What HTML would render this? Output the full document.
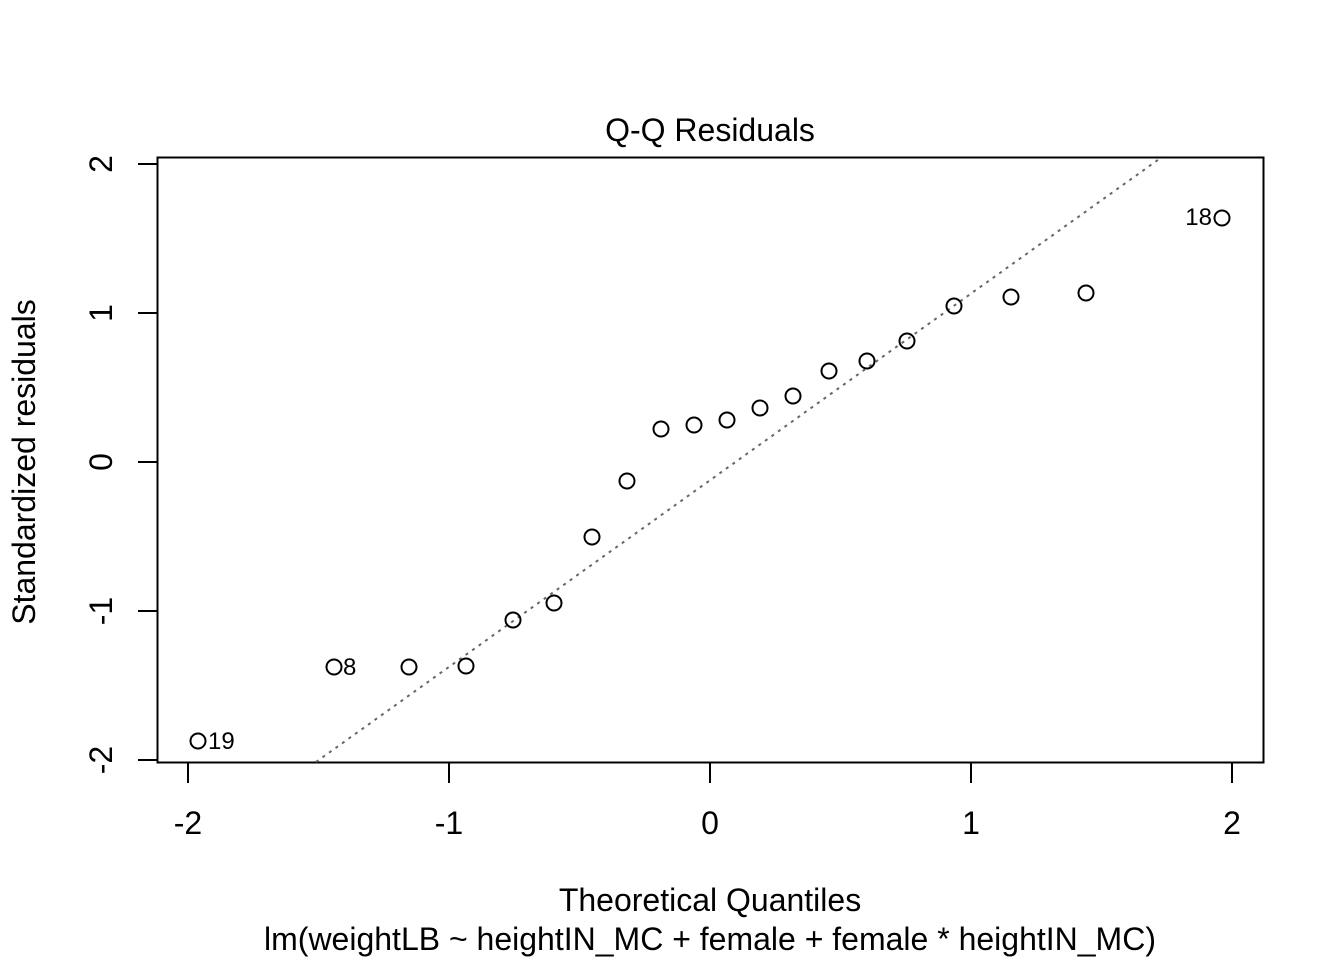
<!DOCTYPE html>
<html><head><meta charset="utf-8"><style>body{margin:0;background:#fff}svg{display:block}</style></head><body>
<svg width="1344" height="960" xmlns="http://www.w3.org/2000/svg" font-family="Liberation Sans, Arial, sans-serif">
<rect width="1344" height="960" fill="#fff"/>
<rect x="157.5" y="157.5" width="1106" height="605" fill="none" stroke="#000" stroke-width="2"/>
<line x1="316" y1="762" x2="1162" y2="157" stroke="#666" stroke-width="2" stroke-dasharray="3,5"/>
<g stroke="#000" stroke-width="2">
<line x1="188" y1="763" x2="188" y2="783"/><line x1="449" y1="763" x2="449" y2="783"/><line x1="710" y1="763" x2="710" y2="783"/><line x1="971" y1="763" x2="971" y2="783"/><line x1="1232" y1="763" x2="1232" y2="783"/>
<line x1="138" y1="164" x2="157" y2="164"/><line x1="138" y1="313" x2="157" y2="313"/><line x1="138" y1="462" x2="157" y2="462"/><line x1="138" y1="611" x2="157" y2="611"/><line x1="138" y1="760" x2="157" y2="760"/>
</g>
<g font-size="32" text-anchor="middle">
<text x="188" y="834">-2</text><text x="449" y="834">-1</text><text x="710" y="834">0</text><text x="971" y="834">1</text><text x="1232" y="834">2</text>
<text transform="translate(112,164) rotate(-90)">2</text>
<text transform="translate(112,313) rotate(-90)">1</text>
<text transform="translate(112,462) rotate(-90)">0</text>
<text transform="translate(112,611) rotate(-90)">-1</text>
<text transform="translate(112,760) rotate(-90)">-2</text>
<text x="710" y="141">Q-Q Residuals</text>
<text x="710" y="911">Theoretical Quantiles</text>
<text x="710" y="950">lm(weightLB ~ heightIN_MC + female + female * heightIN_MC)</text>
<text transform="translate(35,462) rotate(-90)">Standardized residuals</text>
</g>
<g fill="none" stroke="#000" stroke-width="2">
<circle cx="198" cy="741" r="7.5"/><circle cx="334" cy="667" r="7.5"/><circle cx="409" cy="667" r="7.5"/><circle cx="466" cy="666" r="7.5"/><circle cx="513" cy="620" r="7.5"/><circle cx="554" cy="603" r="7.5"/><circle cx="592" cy="537" r="7.5"/><circle cx="627" cy="481" r="7.5"/><circle cx="661" cy="429" r="7.5"/><circle cx="694" cy="425" r="7.5"/><circle cx="727" cy="420" r="7.5"/><circle cx="760" cy="408" r="7.5"/><circle cx="793" cy="396" r="7.5"/><circle cx="829" cy="371" r="7.5"/><circle cx="867" cy="361" r="7.5"/><circle cx="907" cy="341" r="7.5"/><circle cx="954" cy="306" r="7.5"/><circle cx="1011" cy="297" r="7.5"/><circle cx="1086" cy="293" r="7.5"/><circle cx="1222" cy="218" r="7.5"/>
</g>
<g font-size="24">
<text x="208" y="749">19</text>
<text x="343" y="675">8</text>
<text x="1212" y="225" text-anchor="end">18</text>
</g>
</svg>
</body></html>
